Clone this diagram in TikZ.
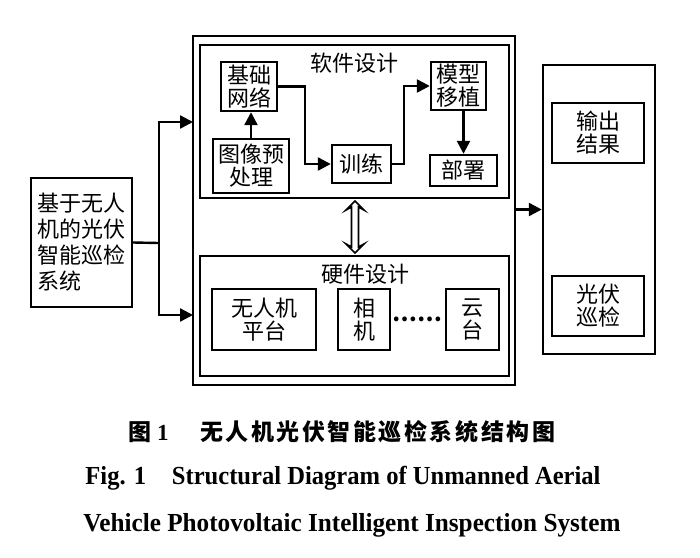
\documentclass[tikz,border=0pt]{standalone}
\usepackage{fontspec}
\setmainfont{Liberation Serif}
\newfontfamily\cjk{Noto Sans CJK SC}
\newfontfamily\cjkcap[LetterSpace=11]{Noto Sans CJK SC}
\usetikzlibrary{arrows.meta,calc}
\begin{document}
\begin{tikzpicture}[x=1pt,y=-1pt,
  box/.style={draw, line width=2.4pt, inner sep=0pt, align=center, font=\cjk\fontsize{22}{23}\selectfont},
  frame/.style={draw, line width=2.5pt, inner sep=0pt},
  arr/.style={line width=2.4pt, -{Triangle[length=13pt,width=13pt]}},
  ln/.style={line width=2.4pt},
  ttl/.style={font=\cjk\fontsize{22}{23}\selectfont, inner sep=0pt},
  captxt/.style={inner sep=0pt, font=\bfseries\fontsize{26}{26}\selectfont},
  dblarr/.style={draw, line width=1.6pt, line join=miter},
]
\useasboundingbox (0,0) rectangle (700,557);
\fill[white] (0,0) rectangle (700,557);
% frames
\node[frame, minimum width=322pt, minimum height=349pt] (outer) at (354,210.5) {};
\node[frame, minimum width=309pt, minimum height=153pt] (sw) at (354.5,121.5) {};
\node[frame, minimum width=309pt, minimum height=120pt] (hw) at (354.5,316) {};
\node[ttl] (swt) at (354,63) {软件设计};
\node[ttl] (hwt) at (365,274) {硬件设计};
% software boxes
\node[box, minimum width=56pt, minimum height=49pt] (jc) at (249,86.5) {基础\\网络};
\node[box, minimum width=76pt, minimum height=54pt] (tx) at (251,166) {图像预\\处理};
\node[box, minimum width=59pt, minimum height=38pt] (xl) at (361.5,164) {训练};
\node[box, minimum width=55pt, minimum height=48pt] (mx) at (458.5,86) {模型\\移植};
\node[box, minimum width=67pt, minimum height=31pt] (bs) at (463.5,170.5) {部署};
% hardware boxes
\node[box, minimum width=104pt, minimum height=61pt] (wr) at (264,319.5) {无人机\\平台};
\node[box, minimum width=52pt, minimum height=61pt] (xj) at (364,319.5) {相\\机};
\node[ttl, font=\cjk\bfseries\fontsize{22}{23}\selectfont] (dots) at (417.5,319) {……};
\node[box, minimum width=53pt, minimum height=61pt] (yt) at (472.5,319.5) {云\\台};
% left and right
\node[box, align=left, font=\cjk\fontsize{22}{26}\selectfont, minimum width=101pt, minimum height=129pt] (lf) at (81.5,242.5) {基于无人\\机的光伏\\智能巡检\\系统};
\node[frame, minimum width=112pt, minimum height=289pt] (rt) at (599,209.5) {};
\node[box, minimum width=92pt, minimum height=60pt] (sc) at (598,133) {输出\\结果};
\node[box, minimum width=92pt, minimum height=60pt] (gf) at (598,306) {光伏\\巡检};
% connectors
\coordinate (j) at (159,243);
\coordinate (ua) at (193,122);
\coordinate (da) at (193,315);
\draw[ln] (lf.east) -- (j);
\draw[arr] (j) |- (ua);
\draw[arr] (j) |- (da);
\draw[arr] (outer.east |- rt.west) -- (rt.west);
\draw[arr] (tx.north) -- (tx.north |- jc.south);
\draw[arr] (jc.east) -- ++(27,0) |- (xl.west);
\draw[arr] (xl.east) -- ++(12,0) |- (mx.west);
\draw[arr] (bs.north |- mx.south) -- (bs.north);
% hollow double arrow between software and hardware design
\coordinate (dt) at ($(sw.south)+(0.5,1.8)$);
\coordinate (db) at ($(hw.north)+(0.5,-1.8)$);
\draw[dblarr] (dt) -- ($(dt)+(-9,9)$) -- ($(dt)+(-3.5,6)$) -- ($(db)+(-3.5,-6)$) -- ($(db)+(-9,-9)$)
  -- (db) -- ($(db)+(9,-9)$) -- ($(db)+(3.5,-6)$) -- ($(dt)+(3.5,6)$) -- ($(dt)+(9,9)$) -- cycle;
% caption
\node[anchor=west, inner sep=0pt] (fig) at (128,432) {{\cjk\bfseries\fontsize{23}{23}\selectfont 图}\hspace{6pt}{\bfseries\fontsize{23}{23}\selectfont 1}};
\node[anchor=west, inner sep=0pt, font=\cjkcap\bfseries\fontsize{23}{23}\selectfont] (cn) at (200,432) {无人机光伏智能巡检系统结构图};
\node[captxt] (en1) at (343,478) {\scalebox{0.945}[1]{Fig. 1\hspace{1.05em}Structural Diagram of Unmanned Aerial}};
\node[captxt] (en2) at (352,525) {\scalebox{0.97}[1]{Vehicle Photovoltaic Intelligent Inspection System}};
\end{tikzpicture}
\end{document}
